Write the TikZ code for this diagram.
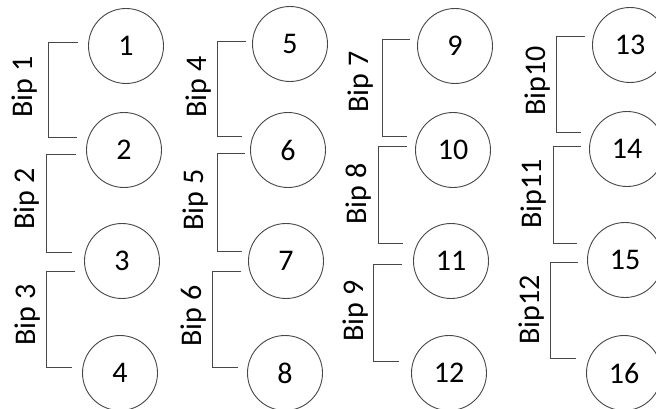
\documentclass[tikz,border=0pt]{standalone}
\usepackage{fontspec}
\setmainfont{Carlito}
\begin{document}
\begin{tikzpicture}[x=1pt,y=-1pt,
  bub/.style={circle,draw=black!72,line width=0.9pt,minimum size=75pt,inner sep=0pt,font=\fontsize{30}{36}\selectfont},
  lab/.style={rotate=90,inner sep=0pt,font=\fontsize{30}{36}\selectfont},
  brk/.style={draw=black!72,line width=1pt}]
\useasboundingbox (0,0) rectangle (656,409);
\clip (0,0) rectangle (656,409);
% circles
\node[bub] (c1) at (126,46) {1};
\node[bub] (c2) at (124,150) {2};
\node[bub] (c3) at (122,261) {3};
\node[bub] (c4) at (120,373) {4};
\node[bub] (c5) at (290,44) {5};
\node[bub] (c6) at (288,150) {6};
\node[bub] (c7) at (286,261) {7};
\node[bub] (c8) at (285,373) {8};
\node[bub] (c9) at (455,46) {9};
\node[bub] (c10) at (453,150) {10};
\node[bub] (c11) at (451,261) {11};
\node[bub] (c12) at (449,373) {12};
\node[bub] (c13) at (630,45) {13};
\node[bub] (c14) at (627,149) {14};
\node[bub] (c15) at (625,260) {15};
\node[bub] (c16) at (624,373) {16};
% bracket end points
\coordinate (t1) at (78,43);   \coordinate (v1) at (48,0);  \coordinate (e1) at (77,138);
\coordinate (t2) at (76,155);  \coordinate (v2) at (46,0);  \coordinate (e2) at (72,252);
\coordinate (t3) at (75,271);  \coordinate (v3) at (46,0);  \coordinate (e3) at (72,367);
\coordinate (t4) at (246,42);  \coordinate (v4) at (217,0); \coordinate (e4) at (242,137);
\coordinate (t5) at (245,154); \coordinate (v5) at (217,0); \coordinate (e5) at (242,251);
\coordinate (t6) at (241,271); \coordinate (v6) at (212,0); \coordinate (e6) at (238,367);
\coordinate (t7) at (410,40);  \coordinate (v7) at (382,0); \coordinate (e7) at (407,137);
\coordinate (t8) at (407,147); \coordinate (v8) at (378,0); \coordinate (e8) at (403,243);
\coordinate (t9) at (402,264); \coordinate (v9) at (373,0); \coordinate (e9) at (399,361);
\coordinate (t10) at (585,37); \coordinate (v10) at (556,0); \coordinate (e10) at (581,133);
\coordinate (t11) at (581,147); \coordinate (v11) at (553,0); \coordinate (e11) at (577,243);
\coordinate (t12) at (578,262); \coordinate (v12) at (550,0); \coordinate (e12) at (576,358);
\foreach \i in {1,...,12}{
  \draw[brk] (t\i) -- (v\i |- t\i) -- (v\i |- e\i) -- (e\i);
}
% labels
\node[lab] (l1) at (25,87) {Bip 1};
\node[lab] (l2) at (27,199) {Bip 2};
\node[lab] (l3) at (28,315) {Bip 3};
\node[lab] (l4) at (199,87) {Bip 4};
\node[lab] (l5) at (196,200) {Bip 5};
\node[lab] (l6) at (194,316) {Bip 6};
\node[lab] (l7) at (361,82) {Bip 7};
\node[lab] (l8) at (359,194) {Bip 8};
\node[lab] (l9) at (356,311) {Bip 9};
\node[lab] (l10) at (538,81) {Bip10};
\node[lab] (l11) at (534,194) {Bip11};
\node[lab] (l12) at (532,310) {Bip12};
\end{tikzpicture}
\end{document}
